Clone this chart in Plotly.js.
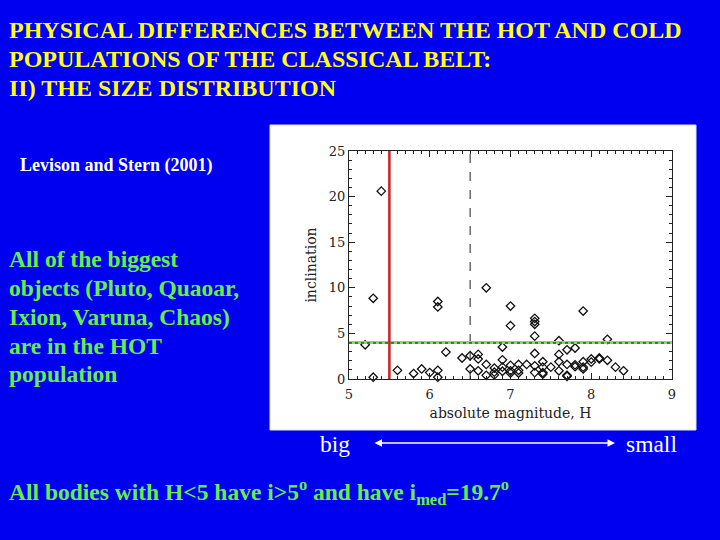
<!DOCTYPE html>
<html>
<head>
<meta charset="utf-8">
<script src="https://cdn.plot.ly/plotly-3.0.1.min.js"></script>
<style>
html,body{margin:0;padding:0;background:#0000f0;}
#chart{width:720px;height:540px;}
</style>
</head>
<body>
<div id="chart"></div>
<script>
// Absolute magnitude H and inclination (deg) of classical belt objects
var magnitudeH = [5.2, 5.3, 5.3, 5.4, 5.6, 5.8, 5.9, 6.0, 6.1, 6.1, 6.1, 6.1, 6.2, 6.4, 6.5, 6.5,
  6.6, 6.6, 6.6, 6.7, 6.7, 6.7, 6.8, 6.8, 6.8, 6.9, 6.9, 6.9, 6.9, 7.0, 7.0, 7.0, 7.0, 7.0,
  7.1, 7.1, 7.1, 7.2, 7.3, 7.3, 7.3, 7.3, 7.3, 7.3, 7.3, 7.4, 7.4, 7.4, 7.4, 7.5,
  7.6, 7.6, 7.6, 7.6, 7.7, 7.7, 7.7, 7.7, 7.8, 7.8, 7.8, 7.9, 7.9, 7.9, 7.9,
  8.0, 8.0, 8.1, 8.1, 8.2, 8.2, 8.3, 8.4];
var inclination = [3.75, 8.85, 0.2, 20.6, 0.95, 0.6, 1.1, 0.7, 0.95, 0.2, 8.5, 7.9, 2.95, 2.3, 2.55, 1.1,
  2.7, 2.2, 0.9, 10.0, 1.6, 0.4, 1.2, 0.75, 0.45, 3.5, 2.1, 1.3, 0.85, 8.0, 5.85, 1.5, 0.9, 0.65,
  1.6, 0.95, 0.65, 1.6, 6.65, 6.3, 6.0, 4.7, 2.8, 1.45, 0.7, 1.9, 1.3, 0.7, 0.55, 1.3,
  4.2, 2.7, 1.9, 0.9, 3.2, 1.6, 0.4, 0.3, 3.4, 1.55, 1.35, 7.45, 1.9, 1.3, 1.1,
  2.2, 1.85, 2.3, 2.2, 4.35, 2.05, 1.3, 0.9];

// Reference lines
var hotColdCutH = 5.5;      // red vertical line
var medianH = 6.5;          // dashed vertical line
var inclinationCut = 4.0;   // green horizontal line
var xRange = [5, 9];
var yRange = [0, 25];
var xTicks = [5, 6, 7, 8, 9];
var yTicks = [0, 5, 10, 15, 20, 25];

// Slide texts
var titleLines = ["PHYSICAL DIFFERENCES BETWEEN THE HOT AND COLD",
  "POPULATIONS OF THE CLASSICAL BELT:",
  "II) THE SIZE DISTRIBUTION"];
var sideLines = ["All of the biggest", "objects (Pluto, Quaoar,", "Ixion, Varuna, Chaos)",
  "are in the HOT", "population"];
var creditText = "Levison and Stern (2001)";
var bottomText = "All bodies with H&lt;5 have i&gt;5<sup>o</sup> and have i<sub>med</sub>=19.7<sup>o</sup>";

// pixel -> paper helpers (plot area: x 349..672, y 151..379)
var L = 349, R = 672, T = 151, B = 379;
function px(x){ return (x - L) / (R - L); }
function py(y){ return (B - y) / (B - T); }

var yellow = '#ffff1a', green = '#66ee4d';
var serif = 'Liberation Serif, Times New Roman, serif';
var idl = 'DejaVu Serif, serif';

var annotations = [];
var titleY = [30, 59, 88];
titleLines.forEach(function(t, i){
  annotations.push({text: t, xref:'paper', yref:'paper', x: px(7), y: py(titleY[i]),
    xanchor:'left', yanchor:'middle', showarrow:false,
    font:{family: serif, size: 24, color: yellow, weight: 'bold'}});
});
var sideY = [259, 288, 317, 346, 374];
sideLines.forEach(function(t, i){
  annotations.push({text: t, xref:'paper', yref:'paper', x: px(7), y: py(sideY[i]),
    xanchor:'left', yanchor:'middle', showarrow:false,
    font:{family: serif, size: 23.5, color: green, weight: 'bold'}});
});
annotations.push({text: creditText, xref:'paper', yref:'paper', x: px(18), y: py(165),
  xanchor:'left', yanchor:'middle', showarrow:false,
  font:{family: serif, size: 18, color: '#ffffff', weight: 'bold'}});
annotations.push({text: 'big', xref:'paper', yref:'paper', x: px(335), y: py(444),
  xanchor:'center', yanchor:'middle', showarrow:false,
  font:{family: serif, size: 23.5, color: '#ffffff'}});
annotations.push({text: 'small', xref:'paper', yref:'paper', x: px(651), y: py(444),
  xanchor:'center', yanchor:'middle', showarrow:false,
  font:{family: serif, size: 23.5, color: '#ffffff'}});
annotations.push({text: '', xref:'paper', yref:'paper', x: px(615), y: py(443),
  ax: -242, ay: 0, showarrow:true, arrowside:'end+start', arrowhead:2, arrowsize:1,
  arrowwidth:1.5, arrowcolor:'#ffffff'});
annotations.push({text: bottomText, xref:'paper', yref:'paper', x: px(7), y: py(492),
  xanchor:'left', yanchor:'middle', showarrow:false,
  font:{family: serif, size: 23.5, color: green, weight: 'bold'}});

var shapes = [
  {type:'rect', xref:'paper', yref:'paper', x0: px(270), x1: px(696), y0: py(430), y1: py(125),
    fillcolor:'#ffffff', line:{color:'#dde4f6', width:1}, layer:'below'},
  {type:'line', xref:'x', yref:'y', x0: medianH, x1: medianH, y0: yRange[0], y1: yRange[1],
    line:{color:'#222222', width:1, dash:'dash'}},
  {type:'line', xref:'x', yref:'y', x0: xRange[0], x1: xRange[1], y0: inclinationCut, y1: inclinationCut,
    line:{color:'#7ee060', width:3}},
  {type:'line', xref:'x', yref:'y', x0: xRange[0], x1: xRange[1], y0: inclinationCut - 0.05, y1: inclinationCut - 0.05,
    line:{color:'#111111', width:1, dash:'dot'}},
  {type:'line', xref:'x', yref:'y', x0: hotColdCutH, x1: hotColdCutH, y0: -0.45, y1: yRange[1],
    line:{color:'#cc2020', width:2.5}}
];

var trace = {
  x: magnitudeH, y: inclination, type:'scatter', mode:'markers',
  marker:{symbol:'diamond-open', size:6.5, color:'#111111', line:{width:1.3, color:'#111111'}},
  hoverinfo:'skip', cliponaxis:false
};

var axisCommon = {
  showline:true, linecolor:'#222222', linewidth:1.2, mirror:'allticks',
  ticks:'inside', ticklen:6, tickwidth:1.2, tickcolor:'#222222',
  showgrid:false, zeroline:false, fixedrange:true,
  tickfont:{family: idl, size: 13, color:'#222222'}
};

var layout = {
  width:720, height:540,
  margin:{l:L, r:720-R, t:T, b:540-B, pad:0},
  paper_bgcolor:'#0000f0', plot_bgcolor:'#ffffff',
  showlegend:false,
  xaxis: Object.assign({}, axisCommon, {
    range: xRange, tickvals: xTicks, ticktext: xTicks.map(String),
    ticklabelstandoff: 3,
    minor:{dtick:0.1, ticks:'inside', ticklen:3, tickcolor:'#222222', tickwidth:1},
    title:{text:'absolute magnitude, H', font:{family: idl, size:14, color:'#222222'}, standoff:7}
  }),
  yaxis: Object.assign({}, axisCommon, {
    range: yRange, tickvals: yTicks, ticktext: yTicks.map(String),
    minor:{dtick:1, ticks:'inside', ticklen:3, tickcolor:'#222222', tickwidth:1},
    title:{text:'inclination', font:{family: idl, size:14, color:'#222222'}, standoff:8}
  }),
  shapes: shapes,
  annotations: annotations
};

Plotly.newPlot('chart', [trace], layout, {displayModeBar:false, staticPlot:true});
</script>
</body>
</html>
